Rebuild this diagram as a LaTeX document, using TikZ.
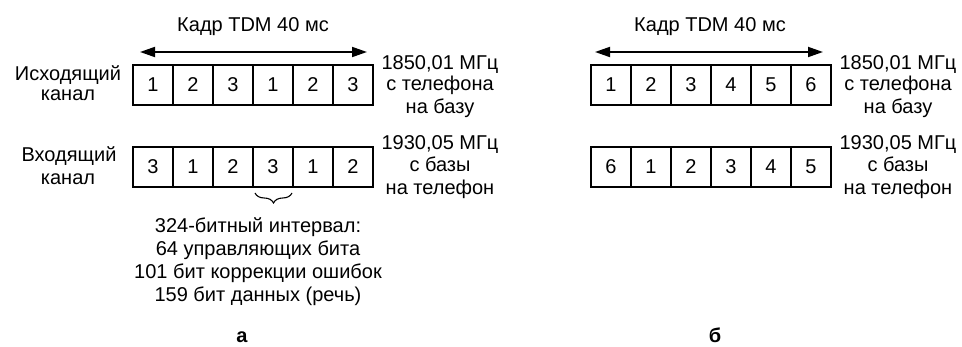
\documentclass[tikz,border=0pt]{standalone}
\usepackage{fontspec}
\setmainfont{Liberation Sans}
\usetikzlibrary{arrows.meta,decorations.pathreplacing}
\begin{document}
\begin{tikzpicture}[x=1pt,y=-1pt,
  every node/.style={font=\fontsize{20}{22}\selectfont, inner sep=0pt, outer sep=0pt},
  lbl/.style={anchor=base},
  panelcap/.style={anchor=base, font=\fontsize{20}{22}\selectfont\bfseries},
  cell/.style={draw, line width=1.4pt, minimum width=40pt, minimum height=40pt, anchor=center},
  dbl/.style={{Triangle[length=15pt,width=10pt]}-{Triangle[length=15pt,width=10pt]}, line width=1.8pt},
  brc/.style={decorate, decoration={brace, amplitude=10pt}, line width=1.1pt}]
\useasboundingbox (0,0) rectangle (962,347);

% ---------- panel a ----------
\node[lbl] (ta) at (253,32) {Кадр TDM 40 мс};
\coordinate (la1) at (140,52);
\coordinate (la2) at (367,52);
\draw[dbl] (la1) -- (la2);

\node[lbl] (outa1) at (68,81) {Исходящий};
\node[lbl] (outa2) at (68,101) {канал};
\node[lbl] (ina1) at (69,162) {Входящий};
\node[lbl] (ina2) at (68,185) {канал};

\node[cell] (at1) at (153,85) {1};
\node[cell] (at2) at (193,85) {2};
\node[cell] (at3) at (233,85) {3};
\node[cell] (at4) at (273,85) {1};
\node[cell] (at5) at (313,85) {2};
\node[cell] (at6) at (353,85) {3};

\node[cell] (ab1) at (153,167) {3};
\node[cell] (ab2) at (193,167) {1};
\node[cell] (ab3) at (233,167) {2};
\node[cell] (ab4) at (273,167) {3};
\node[cell] (ab5) at (313,167) {1};
\node[cell] (ab6) at (353,167) {2};

\node[lbl] (fa1) at (440,70) {1850,01 МГц};
\node[lbl] (fa2) at (440,91) {с телефона};
\node[lbl] (fa3) at (440,114) {на базу};
\node[lbl] (ga1) at (440,150) {1930,05 МГц};
\node[lbl] (ga2) at (440,172) {с базы};
\node[lbl] (ga3) at (440,195) {на телефон};

\draw[brc] ([xshift=-1pt,yshift=-6pt]ab4.south east) -- ([xshift=2pt,yshift=-6pt]ab4.south west);

\node[lbl] (d1) at (258,233) {324-битный интервал:};
\node[lbl] (d2) at (258,256) {64 управляющих бита};
\node[lbl] (d3) at (258,279) {101 бит коррекции ошибок};
\node[lbl] (d4) at (258,302) {159 бит данных (речь)};

\node[panelcap] (capa) at (242,343) {а};

% ---------- panel b ----------
\node[lbl] (tb) at (710,32) {Кадр TDM 40 мс};
\coordinate (lb1) at (595,52);
\coordinate (lb2) at (823,52);
\draw[dbl] (lb1) -- (lb2);

\node[cell] (bt1) at (611,85) {1};
\node[cell] (bt2) at (651,85) {2};
\node[cell] (bt3) at (691,85) {3};
\node[cell] (bt4) at (731,85) {4};
\node[cell] (bt5) at (771,85) {5};
\node[cell] (bt6) at (811,85) {6};

\node[cell] (bb1) at (611,167) {6};
\node[cell] (bb2) at (651,167) {1};
\node[cell] (bb3) at (691,167) {2};
\node[cell] (bb4) at (731,167) {3};
\node[cell] (bb5) at (771,167) {4};
\node[cell] (bb6) at (811,167) {5};

\node[lbl] (fb1) at (898,70) {1850,01 МГц};
\node[lbl] (fb2) at (898,91) {с телефона};
\node[lbl] (fb3) at (898,114) {на базу};
\node[lbl] (gb1) at (898,150) {1930,05 МГц};
\node[lbl] (gb2) at (898,172) {с базы};
\node[lbl] (gb3) at (898,195) {на телефон};

\node[panelcap] (capb) at (715,343) {б};
\end{tikzpicture}
\end{document}
